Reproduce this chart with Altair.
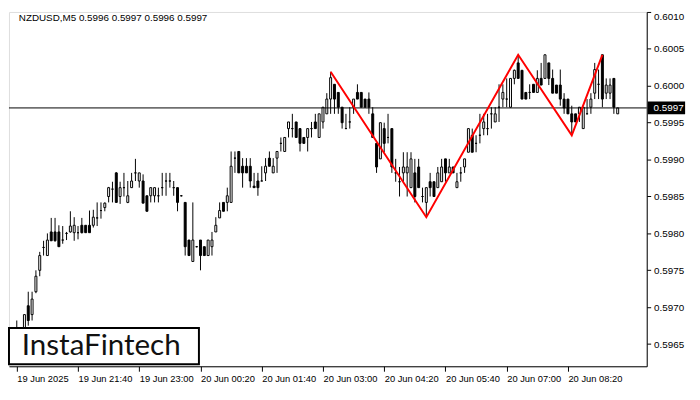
import altair as alt
import pandas as pd

# OHLC of the NZDUSD M5 candles
opens = [0.59672,0.59662,0.59670,0.59702,0.59690,0.59721,0.59750,0.59781,0.59770,0.59802,
         0.59802,0.59802,0.59791,0.59800,0.59802,0.59801,0.59801,0.59811,0.59811,0.59811,
         0.59811,0.59821,0.59831,0.59835,0.59850,0.59860,0.59882,0.59850,0.59862,0.59842,
         0.59862,0.59882,0.59871,0.59871,0.59851,0.59851,0.59851,0.59851,0.59862,0.59871,
         0.59871,0.59862,0.59862,0.59851,0.59842,0.59791,0.59762,0.59782,0.59791,0.59782,
         0.59770,0.59782,0.59802,0.59821,0.59842,0.59842,0.59842,0.59902,0.59911,0.59891,
         0.59891,0.59891,0.59864,0.59871,0.59871,0.59882,0.59902,0.59882,0.59902,0.59922,
         0.59911,0.59942,0.59942,0.59951,0.59942,0.59930,0.59930,0.59942,0.59951,0.59930,
         0.59951,0.59962,0.59982,0.60002,0.59991,0.59971,0.59942,0.59951,0.59971,0.59991,
         0.59991,0.59982,0.59982,0.59962,0.59922,0.59901,0.59942,0.59930,0.59942,0.59882,
         0.59870,0.59882,0.59882,0.59862,0.59882,0.59890,0.59850,0.59842,0.59870,0.59870,
         0.59862,0.59870,0.59901,0.59882,0.59890,0.59862,0.59882,0.59890,0.59910,0.59933,
         0.59922,0.59933,0.59942,0.59942,0.59962,0.59951,0.59971,0.59982,0.59982,0.59971,
         0.60010,0.60031,0.60021,0.59991,0.59991,0.60002,0.59991,0.60010,0.60010,0.60031,
         0.60010,0.60001,0.60001,0.59982,0.59982,0.59962,0.59962,0.59962,0.59942,0.59962,
         0.59971,0.59990,0.60002,0.60042,0.59990,0.59990,0.60010,0.59962]
highs = [0.59682,0.59663,0.59690,0.59721,0.59721,0.59750,0.59775,0.59790,0.59800,0.59821,
         0.59821,0.59811,0.59810,0.59802,0.59830,0.59822,0.59810,0.59821,0.59811,0.59831,
         0.59832,0.59842,0.59842,0.59842,0.59863,0.59870,0.59883,0.59870,0.59882,0.59871,
         0.59882,0.59901,0.59882,0.59880,0.59851,0.59862,0.59862,0.59862,0.59882,0.59882,
         0.59882,0.59871,0.59862,0.59852,0.59842,0.59791,0.59842,0.59783,0.59791,0.59782,
         0.59791,0.59802,0.59822,0.59842,0.59842,0.59862,0.59911,0.59911,0.59911,0.59902,
         0.59902,0.59902,0.59882,0.59882,0.59891,0.59902,0.59911,0.59902,0.59911,0.59930,
         0.59930,0.59951,0.59962,0.59951,0.59942,0.59930,0.59942,0.59951,0.59962,0.59962,
         0.59971,0.59990,0.60019,0.60002,0.59991,0.59971,0.59962,0.59971,0.59982,0.60002,
         0.59991,0.59982,0.59991,0.59971,0.59922,0.59950,0.59950,0.59962,0.59942,0.59901,
         0.59890,0.59910,0.59910,0.59910,0.59901,0.59901,0.59862,0.59862,0.59882,0.59870,
         0.59890,0.59901,0.59901,0.59901,0.59890,0.59882,0.59890,0.59901,0.59942,0.59942,
         0.59933,0.59962,0.59962,0.59962,0.59971,0.59971,0.60002,0.60002,0.60010,0.60010,
         0.60022,0.60042,0.60021,0.59991,0.60002,0.60002,0.60021,0.60031,0.60042,0.60031,
         0.60022,0.60001,0.60022,0.59990,0.59982,0.59973,0.59962,0.59971,0.59971,0.59982,
         0.59990,0.60031,0.60022,0.60042,0.60010,0.60010,0.60010,0.59970]
lows = [0.59645,0.59650,0.59662,0.59675,0.59682,0.59719,0.59742,0.59770,0.59770,0.59790,
        0.59789,0.59782,0.59786,0.59791,0.59801,0.59790,0.59792,0.59800,0.59801,0.59801,
        0.59808,0.59810,0.59820,0.59830,0.59842,0.59842,0.59842,0.59840,0.59850,0.59841,
        0.59862,0.59871,0.59862,0.59841,0.59830,0.59842,0.59842,0.59842,0.59851,0.59851,
        0.59862,0.59851,0.59830,0.59850,0.59770,0.59770,0.59762,0.59781,0.59750,0.59770,
        0.59770,0.59770,0.59802,0.59821,0.59830,0.59830,0.59842,0.59882,0.59882,0.59862,
        0.59882,0.59862,0.59862,0.59851,0.59871,0.59871,0.59891,0.59882,0.59882,0.59911,
        0.59911,0.59930,0.59930,0.59930,0.59911,0.59922,0.59911,0.59930,0.59942,0.59930,
        0.59942,0.59962,0.59962,0.59962,0.59962,0.59942,0.59942,0.59942,0.59962,0.59982,
        0.59971,0.59971,0.59962,0.59930,0.59882,0.59901,0.59910,0.59922,0.59882,0.59870,
        0.59850,0.59870,0.59850,0.59862,0.59842,0.59862,0.59842,0.59822,0.59850,0.59850,
        0.59862,0.59870,0.59870,0.59882,0.59882,0.59862,0.59870,0.59882,0.59910,0.59910,
        0.59910,0.59922,0.59933,0.59933,0.59942,0.59951,0.59951,0.59971,0.59971,0.59971,
        0.60002,0.60010,0.59982,0.59982,0.59982,0.59991,0.59991,0.60001,0.60010,0.60001,
        0.59990,0.59990,0.59973,0.59962,0.59962,0.59933,0.59951,0.59951,0.59942,0.59962,
        0.59962,0.59982,0.59982,0.59971,0.59982,0.59982,0.59962,0.59962]
closes = [0.59660,0.59662,0.59690,0.59682,0.59711,0.59742,0.59770,0.59781,0.59791,0.59790,
          0.59790,0.59782,0.59791,0.59800,0.59810,0.59811,0.59801,0.59801,0.59801,0.59801,
          0.59822,0.59821,0.59831,0.59841,0.59862,0.59860,0.59842,0.59862,0.59862,0.59851,
          0.59871,0.59882,0.59882,0.59841,0.59830,0.59862,0.59862,0.59851,0.59862,0.59871,
          0.59871,0.59862,0.59842,0.59851,0.59782,0.59770,0.59791,0.59782,0.59770,0.59770,
          0.59791,0.59791,0.59811,0.59831,0.59830,0.59851,0.59891,0.59902,0.59882,0.59882,
          0.59882,0.59871,0.59862,0.59862,0.59871,0.59891,0.59891,0.59891,0.59911,0.59922,
          0.59930,0.59951,0.59942,0.59930,0.59922,0.59922,0.59942,0.59942,0.59942,0.59962,
          0.59971,0.59982,0.60011,0.59982,0.59971,0.59950,0.59942,0.59951,0.59982,0.59982,
          0.59971,0.59971,0.59971,0.59930,0.59890,0.59950,0.59922,0.59930,0.59890,0.59882,
          0.59870,0.59890,0.59890,0.59901,0.59850,0.59862,0.59850,0.59862,0.59862,0.59850,
          0.59882,0.59890,0.59882,0.59890,0.59882,0.59870,0.59882,0.59901,0.59942,0.59910,
          0.59922,0.59933,0.59951,0.59942,0.59962,0.59962,0.59971,0.59991,0.59982,0.60010,
          0.60021,0.60010,0.59982,0.59982,0.59991,0.59991,0.60010,0.60001,0.60042,0.60010,
          0.59990,0.59990,0.59982,0.59970,0.59962,0.59951,0.59951,0.59971,0.59971,0.59962,
          0.59982,0.60022,0.60002,0.59982,0.60001,0.60001,0.59971,0.59970]

tick_labels = ["19 Jun 2025", "19 Jun 21:40", "19 Jun 23:00", "20 Jun 00:20", "20 Jun 01:40",
               "20 Jun 03:00", "20 Jun 04:20", "20 Jun 05:40", "20 Jun 07:00", "20 Jun 08:20"]
tick_idx = [0, 16, 32, 48, 64, 80, 96, 112, 128, 144]
y_ticks = [0.5965, 0.5970, 0.5975, 0.5980, 0.5985, 0.5990, 0.5995, 0.6000, 0.6005, 0.6010]

pattern_idx = [82, 107, 131, 145, 153]
pattern_price = [0.60019, 0.59822, 0.60042, 0.59933, 0.60042]
last_price = 0.5997
header = "NZDUSD,M5  0.5996 0.5997 0.5996 0.5997"

W, H = 648, 360
FONT = "Liberation Sans"

df = pd.DataFrame({"i": list(range(len(opens))), "open": opens, "high": highs,
                   "low": lows, "close": closes})
pat = pd.DataFrame({"i": pattern_idx, "p": pattern_price})
one = pd.DataFrame({"k": [0]})

label_expr = "[" + ",".join("'" + s + "'" for s in tick_labels) + "][round(datum.value/16)]"

xscale = alt.Scale(domain=[-0.75, 163.3], nice=False, zero=False)
yscale = alt.Scale(domain=[0.5962, 0.6010], nice=False, zero=False)

xaxis = alt.Axis(values=tick_idx, labelExpr=label_expr, grid=False, domainColor="black",
                 tickColor="black", tickSize=5, labelAlign="left", labelPadding=2,
                 labelFont=FONT, labelFontSize=9.5, labelColor="black", title=None,
                 labelOverlap=False, labelFlush=False)
yaxis = alt.Axis(orient="right", values=y_ticks, format=".4f", grid=False,
                 domainColor="black", tickColor="black", tickSize=4, labelPadding=3,
                 labelFont=FONT, labelFontSize=10, labelColor="black", title=None,
                 labelFlush=True, labelOverlap=False)

X = alt.X("i:Q", scale=xscale, axis=xaxis)

wicks = alt.Chart(df).mark_rule(color="black", strokeWidth=1).encode(
    x=X,
    y=alt.Y("low:Q", scale=yscale, axis=yaxis),
    y2="high:Q",
)
bodies = alt.Chart(df).mark_bar(width=2, stroke="black", strokeWidth=1).encode(
    x=X,
    y=alt.Y("open:Q", scale=yscale, axis=yaxis),
    y2="close:Q",
    fill=alt.condition("datum.close >= datum.open", alt.value("white"), alt.value("black")),
)
hline = alt.Chart(one).mark_rule(color="black", strokeWidth=1).encode(
    y=alt.Y(datum=last_price, scale=yscale, axis=yaxis)
)
pattern = alt.Chart(pat).mark_line(color="#ff0000", strokeWidth=2).encode(
    x=X,
    y=alt.Y("p:Q", scale=yscale, axis=yaxis),
)
price_box = alt.Chart(one).mark_rule(color="black", strokeWidth=13).encode(
    x=alt.value(W + 1), x2=alt.value(W + 39),
    y=alt.Y(datum=last_price, scale=yscale, axis=yaxis)
)
price_text = alt.Chart(one).mark_text(text=f"{last_price:.4f}", color="white", font=FONT,
                                      fontSize=10, align="left", baseline="middle").encode(
    x=alt.value(W + 7), y=alt.Y(datum=last_price, scale=yscale, axis=yaxis)
)
head = alt.Chart(one).mark_text(text=header, color="black", font=FONT, fontSize=10,
                                align="left", baseline="middle").encode(
    x=alt.value(10), y=alt.value(6)
)
logo_box = alt.Chart(one).mark_rect(fill="white", stroke="black", strokeWidth=2).encode(
    x=alt.value(0), x2=alt.value(193), y=alt.value(321), y2=alt.value(358)
)
logo_text = alt.Chart(one).mark_text(text="InstaFintech", color="#111111", font="Lato",
                                     fontSize=30, align="left", baseline="middle").encode(
    x=alt.value(13), y=alt.value(340)
)

chart = alt.layer(wicks, bodies, hline, pattern, logo_box, logo_text, head,
                  price_box, price_text).properties(
    width=W, height=H, padding=0
).configure_view(strokeWidth=0).configure(background="white")

chart.save("out.html", embed_options={"renderer": "svg", "actions": False})
